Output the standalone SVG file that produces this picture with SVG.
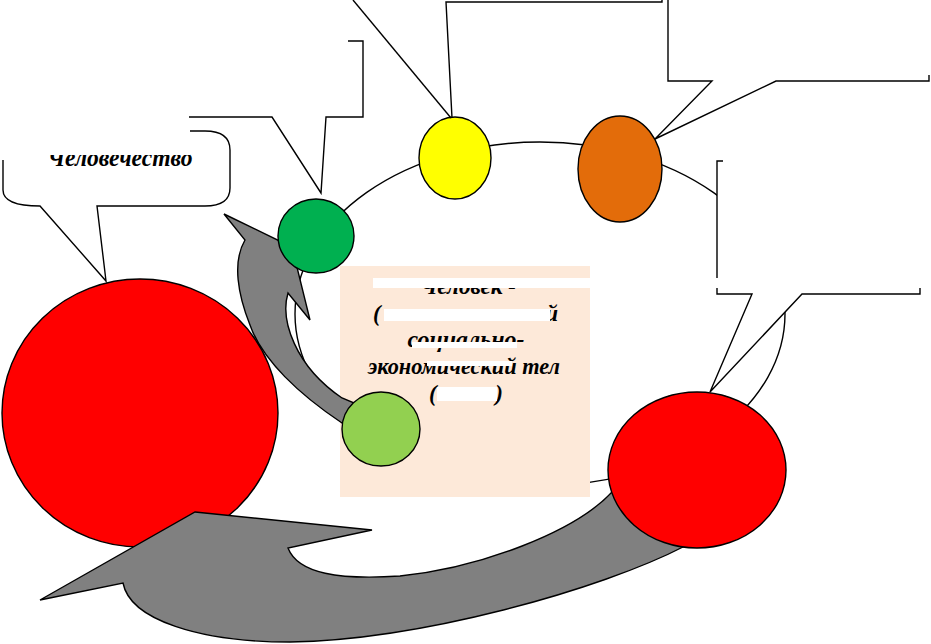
<svg xmlns="http://www.w3.org/2000/svg" width="931" height="644" viewBox="0 0 931 644">
<style>
.ln{fill:none;stroke:#000;stroke-width:1.4;stroke-linejoin:miter}
.nd{stroke:#000;stroke-width:1.4}
.ar{fill:#808080;stroke:#000;stroke-width:1.4;stroke-linejoin:miter}
.t{font-family:"Liberation Serif","Times New Roman",serif;font-weight:bold;font-style:italic;font-size:23px;fill:#000}
.wb{fill:#fff}
</style>
<rect width="931" height="644" fill="#fff"/>

<g id="connectors">
  <ellipse id="ring" class="ln" cx="540" cy="314" rx="245" ry="172"/>
</g>

<g id="center-box">
  <rect x="340" y="266" width="250" height="231" fill="#FDE9D9"/>
  <text class="t" x="468" y="294" text-anchor="middle" textLength="96" lengthAdjust="spacingAndGlyphs">Человек -</text>
  <text class="t" x="373" y="321">(</text>
  <text class="t" x="558" y="321" text-anchor="end">й</text>
  <text class="t" x="466" y="347" text-anchor="middle" textLength="117" lengthAdjust="spacingAndGlyphs">социально-</text>
  <text class="t" x="464" y="374" text-anchor="middle" textLength="192" lengthAdjust="spacingAndGlyphs">экономический тел</text>
  <text class="t" x="429" y="401">(</text>
  <text class="t" x="503" y="401" text-anchor="end">)</text>
  <rect class="wb" x="373" y="278" width="217" height="10"/>
  <rect class="wb" x="384" y="309" width="166" height="12"/>
  <rect class="wb" x="412" y="342" width="105" height="6"/>
  <rect class="wb" x="427" y="361" width="85" height="5"/>
  <rect class="wb" x="437" y="387" width="60" height="14"/>
</g>

<g id="arrow-up">
  <path class="ar" d="M224,214 L292,247 L310,320 L288,293 C280,320 295,366 342,398 L366,408 L366,430 L342,423 C300,395 262,360 250,325 C238,295 232,262 245,240 Z"/>
</g>

<g id="node-big-red">
  <ellipse class="nd" cx="140" cy="413" rx="138" ry="134" fill="#FF0000"/>
</g>

<g id="arrow-bottom">
  <path class="ar" d="M195,512 L372,530 L288,548 C298,574 340,580 400,576 C480,568 575,532 612,492 L680,480 L685,546 C600,590 420,640 290,642 C200,642 130,620 123,583 L40,600 Z"/>
</g>

<g id="node-green">
  <ellipse class="nd" cx="316" cy="236" rx="38" ry="37" fill="#00B050"/>
</g>
<g id="node-yellow">
  <ellipse class="nd" cx="455" cy="158" rx="36" ry="41" fill="#FFFF00"/>
</g>
<g id="node-orange">
  <ellipse class="nd" cx="620" cy="169" rx="42" ry="53" fill="#E36C0A"/>
</g>
<g id="node-lightgreen">
  <ellipse class="nd" cx="381" cy="429" rx="39" ry="37" fill="#92D050"/>
</g>
<g id="node-red-right">
  <ellipse class="nd" cx="697" cy="470" rx="89" ry="78" fill="#FF0000"/>
</g>

<g id="callout-humanity">
  <path d="M3,131 L205,131 Q230,131 230,150 L230,188 Q230,206 205,206 L97,206 L106,281 L40,206 Q3,206 3,190 Z" fill="#fff"/>
  <text class="t" x="120" y="166" text-anchor="middle" textLength="145" lengthAdjust="spacingAndGlyphs" style="font-size:25px">Человечество</text>
  <rect class="wb" x="0" y="100" width="190" height="55"/>
  <path class="ln" d="M190,131 L205,131 Q230,131 230,150 L230,188 Q230,206 205,206 L97,206 L106,281 L40,206 Q3,206 3,190 L3,160"/>
</g>

<g id="callout-green">
  <path class="ln" d="M189,117 L272,117 L321,193 L326,117 L363,117 L363,41 L348,41"/>
</g>

<g id="callout-yellow">
  <path class="ln" d="M353,0 L451,118"/>
  <path class="ln" d="M662,0 L662,2 L446,2 L452,118"/>
</g>

<g id="callout-orange">
  <path class="ln" d="M668,0 L668,81 L712,81 L655,139 L776,81 L929,81 L929,75"/>
</g>

<g id="callout-right">
  <path d="M717,161 L920,161 L920,294 L802,294 L710,392 L752,294 L717,294 Z" fill="#fff"/>
  <path class="ln" d="M723,161 L717,161 L717,278"/>
  <path class="ln" d="M717,288 L717,294 L752,294 L710,392 L802,294 L920,294 L920,288"/>
</g>
</svg>
